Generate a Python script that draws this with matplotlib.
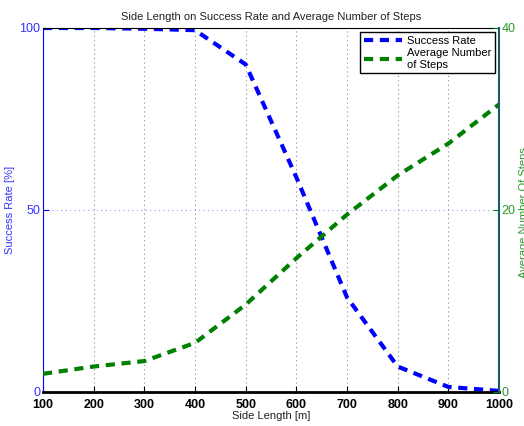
import matplotlib
matplotlib.use('Agg')
import matplotlib.pyplot as plt

plt.rcParams['font.family'] = ['Liberation Sans', 'DejaVu Sans']

side_length = [100, 200, 300, 400, 500, 600, 700, 800, 900, 1000]
success_rate = [100, 100, 99.8, 99.4, 90, 59, 26, 7, 1.4, 0.3]
avg_steps = [2.0, 2.8, 3.4, 5.4, 9.6, 14.7, 19.5, 23.8, 27.3, 31.6]

blue = '#0000ff'
green = '#008000'
lblue = '#3333ff'
lgreen = '#2a9a2a'

fig = plt.figure(figsize=(5.24, 4.26), dpi=100)
ax = fig.add_axes([43/524, 34/426, 456/524, 364/426])
ax2 = ax.twinx()

l1, = ax.plot(side_length, success_rate, '--', color=blue, lw=3, dashes=(2.2, 1.6))
l2, = ax2.plot(side_length, avg_steps, '--', color=green, lw=3, dashes=(2.2, 1.6))

ax.set_xlim(100, 1000)
ax.set_ylim(0, 100)
ax2.set_ylim(0, 40)
ax.set_xticks(side_length)
ax.set_yticks([0, 50, 100])
ax2.set_yticks([0, 20, 40])

# grid: vertical gray dotted, horizontal only at the middle
for x in side_length[1:-1]:
    ax.axvline(x, color='#888888', lw=0.8, ls=(0, (1, 3)), zorder=0)
ax.axhline(50, color='#9999ff', lw=0.8, ls=(0, (1, 3)), zorder=0)

ax.tick_params(axis='x', direction='in', length=4, labelsize=9, colors='black', pad=5)
ax.tick_params(axis='y', direction='in', length=4, labelsize=9, colors=blue, labelcolor=lblue, pad=2)
ax2.tick_params(axis='y', direction='in', length=4, labelsize=9, colors=green, labelcolor=lgreen, pad=2)
for lab in ax.get_xticklabels():
    lab.set_fontweight('bold')

ax.spines['left'].set_color(blue)
ax2.spines['left'].set_visible(False)
ax.spines['right'].set_visible(False)
ax2.spines['right'].set_color('#1a5a6a')
ax2.spines['right'].set_linewidth(1.5)
ax.spines['bottom'].set_linewidth(2)
ax2.spines['bottom'].set_visible(False)
ax.spines['top'].set_linewidth(0.8)
ax2.spines['top'].set_visible(False)

ax.set_xlabel('Side Length [m]', fontsize=8, labelpad=0, color='#222222')
ax.set_ylabel('Success Rate [%]', fontsize=8, color=lblue, labelpad=3)
# right label sits partly outside the figure, as in the original
fig.text(519/524, 0.5, 'Average Number Of Steps', fontsize=8, color=lgreen,
         rotation=90, ha='left', va='center')
ax.set_title('Side Length on Success Rate and Average Number of Steps', fontsize=8, pad=6, color='#222222')

leg = ax2.legend([l1, l2], ['Success Rate', 'Average Number\nof Steps'], loc='upper right',
                 fontsize=8, fancybox=False, framealpha=1, edgecolor='black',
                 handlelength=3.5, borderaxespad=0.4, labelspacing=0.2, handletextpad=0.4,
                 borderpad=0.3)
leg.get_frame().set_linewidth(1.0)

fig.savefig('out.png', dpi=100)
